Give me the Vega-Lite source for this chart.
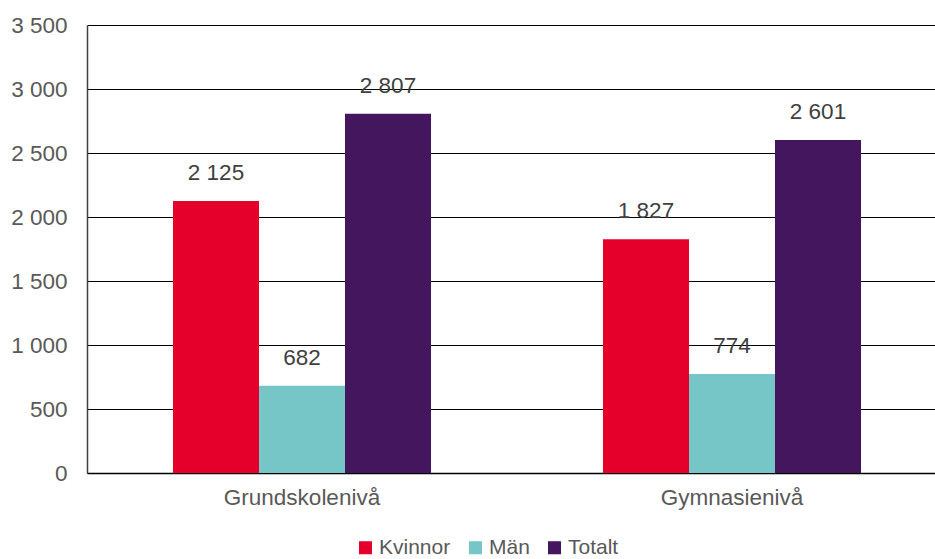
{
  "$schema": "https://vega.github.io/schema/vega-lite/v6.json",
  "autosize": {"type": "none"},
  "padding": {"left": 87, "top": 25, "right": -12, "bottom": 86},
  "width": 860,
  "height": 448,
  "background": "white",
  "config": {
    "view": {"stroke": null},
    "font": "Liberation Sans",
    "locale": {"number": {"decimal": ",", "thousands": " ", "grouping": [3], "currency": ["", " kr"]}}
  },
  "data": {
    "values": [
      {"niva": "Grundskolenivå", "kon": "Kvinnor", "antal": 2125},
      {"niva": "Grundskolenivå", "kon": "Män", "antal": 682},
      {"niva": "Grundskolenivå", "kon": "Totalt", "antal": 2807},
      {"niva": "Gymnasienivå", "kon": "Kvinnor", "antal": 1827},
      {"niva": "Gymnasienivå", "kon": "Män", "antal": 774},
      {"niva": "Gymnasienivå", "kon": "Totalt", "antal": 2601}
    ]
  },
  "encoding": {
    "x": {
      "field": "niva", "type": "nominal", "sort": ["Grundskolenivå", "Gymnasienivå"],
      "scale": {"paddingInner": 0, "paddingOuter": 0},
      "axis": {"title": null, "labelAngle": 0, "labelFontSize": 22.5, "labelColor": "#595959", "labelPadding": 13, "ticks": false, "domainColor": "#000000", "domainWidth": 1.5, "grid": false}
    },
    "xOffset": {"field": "kon", "type": "nominal", "sort": ["Kvinnor", "Män", "Totalt"], "scale": {"paddingOuter": 1, "paddingInner": 0}},
    "y": {
      "field": "antal", "type": "quantitative",
      "scale": {"domain": [0, 3500], "nice": false},
      "axis": {"title": null, "values": [0, 500, 1000, 1500, 2000, 2500, 3000, 3500], "format": ",d", "labelFontSize": 22.5, "labelColor": "#595959", "labelPadding": 20, "ticks": false, "domainColor": "#404040", "domainWidth": 1.5, "gridColor": "#000000", "gridWidth": 1.2, "gridOpacity": 1}
    }
  },
  "layer": [
    {
      "mark": {"type": "bar"},
      "encoding": {
        "color": {
          "field": "kon", "type": "nominal",
          "scale": {"domain": ["Kvinnor", "Män", "Totalt"], "range": ["#E4002B", "#76C6C7", "#43165E"]},
          "legend": {"title": null, "orient": "none", "direction": "horizontal", "legendX": 268, "legendY": 512, "symbolType": "square", "symbolSize": 170, "symbolStrokeWidth": 0, "labelFontSize": 21, "labelColor": "#595959", "columnPadding": 14, "labelOffset": 3}
        }
      }
    },
    {
      "mark": {"type": "text", "baseline": "middle", "dy": -28, "fontSize": 22.5, "color": "#404040"},
      "encoding": {"text": {"field": "antal", "type": "quantitative", "format": ",d"}}
    }
  ]
}
